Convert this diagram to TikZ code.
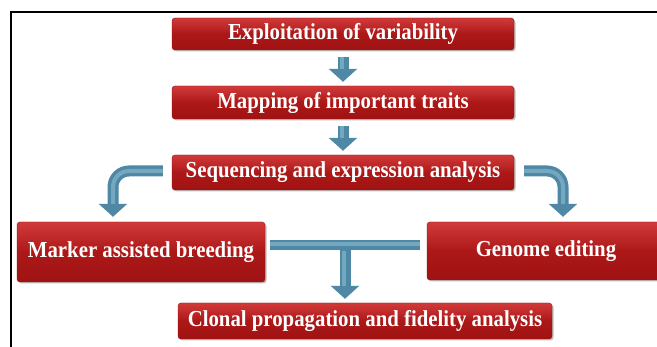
\documentclass[tikz,border=0pt]{standalone}
\usepackage{fontspec}
\setmainfont{Liberation Serif}
\usetikzlibrary{arrows.meta,calc,shadows}
\definecolor{boxtop}{HTML}{D23A3A}
\definecolor{boxmid}{HTML}{AC1818}
\definecolor{boxbot}{HTML}{A01212}
\definecolor{pipe}{HTML}{4F88A5}
\definecolor{pipelight}{HTML}{74A8C1}
\newcommand{\tallt}[1]{\scalebox{1}[1.1]{#1}}
\tikzset{
  redbox/.style={rounded corners=3pt, top color=boxtop, bottom color=boxbot, middle color=boxmid,
    draw=boxmid!80!black, line width=0.4pt,
    drop shadow={shadow xshift=1.5pt, shadow yshift=-1.5pt, fill=black, opacity=0.25},
    text=white, font=\fontsize{20.8}{24}\selectfont\bfseries, inner sep=0pt, align=center},
  pipearrow/.style={draw=pipe, line width=11pt, -{Triangle[width=28pt,length=13pt]}},
  pipebar/.style={draw=pipe, line width=10pt},
  pipehi/.style={draw=pipelight, line width=4pt, shorten >=13pt},
  pipehibar/.style={draw=pipelight, line width=3.5pt},
  framed/.style={draw=black, line width=2pt}
}
\begin{document}
\begin{tikzpicture}[x=1pt,y=-1pt]
\useasboundingbox (0,0) rectangle (657,347);
\fill[white] (0,0) rectangle (657,347);
\coordinate (fbl) at (11,350);
\coordinate (ftl) at (11,12);
\coordinate (ftr) at (660,12);
\draw[framed] (fbl) -- (ftl) -- (ftr);

\node[redbox, minimum width=342pt, minimum height=32pt] (e1) at (343,34) {\tallt{Exploitation of variability}};
\node[redbox, minimum width=342pt, minimum height=33pt] (e2) at (343,102.5) {\tallt{Mapping of important traits}};
\node[redbox, minimum width=342pt, minimum height=35pt] (e3) at (343,172.5) {\tallt{Sequencing and expression analysis}};
\node[redbox, minimum width=248pt, minimum height=60pt] (mab) at (141,252) {\tallt{Marker assisted breeding}};
\node[redbox, minimum width=238pt, minimum height=58pt] (ge) at (546,251) {\tallt{Genome editing}};
\node[redbox, minimum width=374pt, minimum height=36pt] (cp) at (365,321) {\tallt{Clonal propagation and fidelity analysis}};

% straight arrows
\draw[pipearrow] ($(e1.south)+(0,7)$) -- ($(e2.north)+(0,-4)$);
\draw[pipehi] ($(e1.south)+(-1,7)$) -- ($(e2.north)+(-1,-4)$);
\draw[pipearrow] ($(e2.south)+(0,7)$) -- ($(e3.north)+(0,-4)$);
\draw[pipehi] ($(e2.south)+(-1,7)$) -- ($(e3.north)+(-1,-4)$);

% curved arrows
\draw[pipearrow, rounded corners=16pt] ($(e3.west)+(-9,-1.5)$) -| ($(mab.north)+(-28,-5)$);
\draw[pipehi, rounded corners=16pt] ($(e3.west)+(-9,-1.5)$) -| ($(mab.north)+(-28,-5)$);
\draw[pipearrow, rounded corners=16pt] ($(e3.east)+(10,-1.5)$) -| ($(ge.north)+(17,-5)$);
\draw[pipehi, rounded corners=16pt] ($(e3.east)+(10,-1.5)$) -| ($(ge.north)+(17,-5)$);

% T connector
\coordinate (tl) at ($(mab.east)+(5,-7)$);
\coordinate (tr) at ($(ge.west)+(-7,-6)$);
\coordinate (tm) at ($(cp.north)+(-20,-58)$);
\draw[pipearrow] (tm) -- ($(cp.north)+(-20,-4)$);
\draw[pipehi] ($(tm)+(-1,6)$) -- ($(cp.north)+(-21,-4)$);
\draw[pipebar] (tl) -- (tr);
\draw[pipehibar] ($(tl)+(0,-1)$) -- ($(tr)+(0,-1)$);
\end{tikzpicture}
\end{document}
